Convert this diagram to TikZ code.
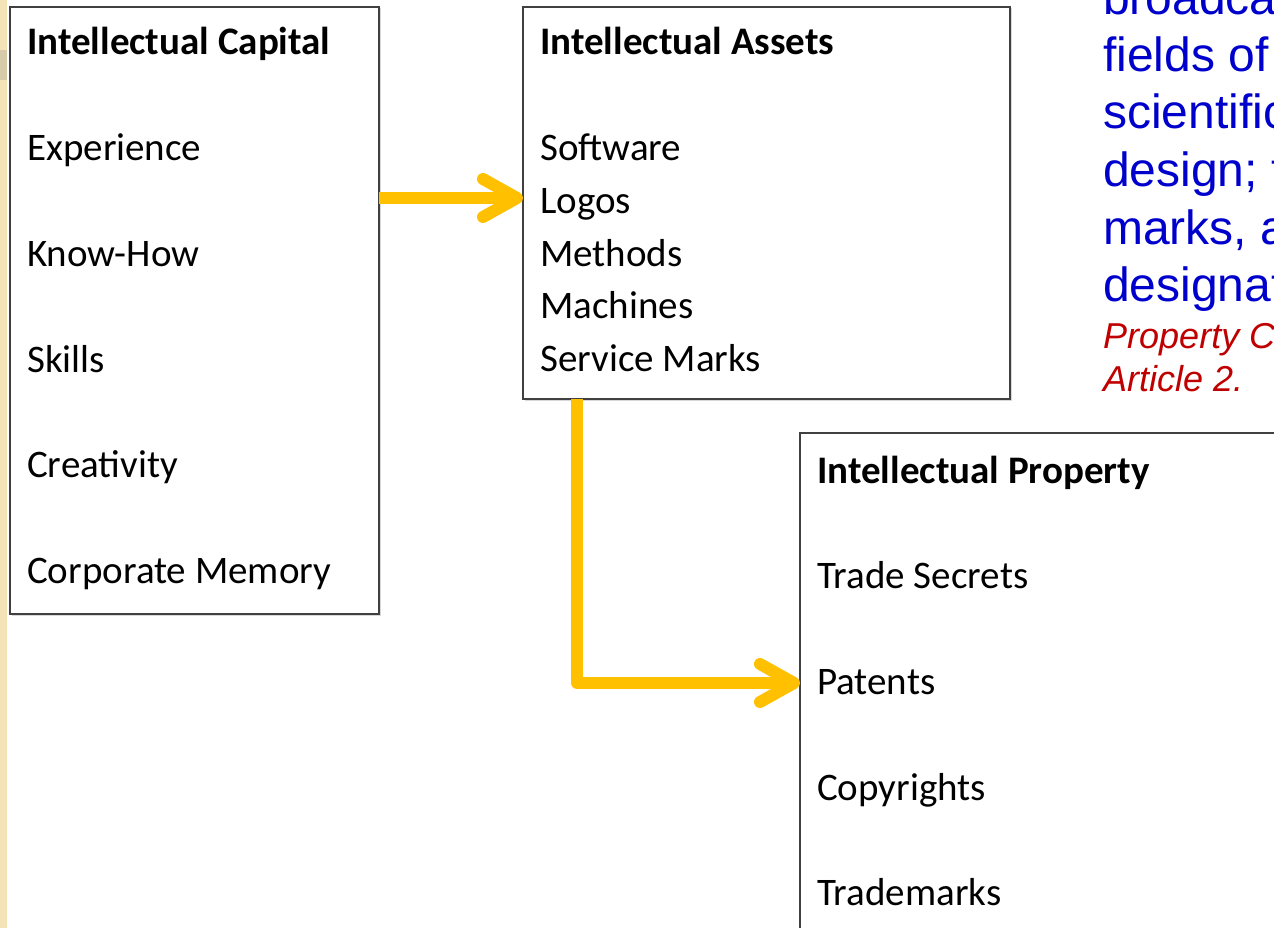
\documentclass[tikz,border=0pt]{standalone}
\usepackage{fontspec}
\setmainfont{Carlito}
\newfontfamily\arialf{Liberation Sans}
\usetikzlibrary{calc,shadows}
\definecolor{arrowc}{HTML}{FFC000}
\definecolor{quoteblue}{HTML}{0000CC}
\definecolor{quotered}{HTML}{C00000}
\definecolor{stripc}{HTML}{F3E3B6}
\definecolor{boxline}{HTML}{404040}
\tikzset{
  box/.style={draw=boxline, line width=1.4pt, fill=white, rectangle, inner sep=0pt, outer sep=0pt, anchor=north west,
    drop shadow={opacity=0.3, shadow xshift=1.5pt, shadow yshift=-1.5pt}},
  item/.style={font=\fontsize{39}{47}\selectfont, inner sep=0pt, anchor=base west, text=black},
  head/.style={item, font=\fontsize{39}{47}\selectfont\bfseries},
  shaft/.style={draw=arrowc, line width=12pt, line join=round, line cap=butt},
  barb/.style={draw=arrowc, line width=12pt, line join=round, line cap=round},
  quote/.style={font=\arialf\fontsize{48}{57}\selectfont, text=quoteblue, inner sep=0pt, anchor=base west},
  cite/.style={font=\arialf\itshape\fontsize{36}{43}\selectfont, text=quotered, inner sep=0pt, anchor=base west},
}
\begin{document}
\begin{tikzpicture}[x=1pt,y=-1pt]
\path[use as bounding box] (0,0) rectangle (1274,928);
\clip (0,0) rectangle (1274,928);
\fill[white] (0,0) rectangle (1274,928);
\fill[stripc] (0,0) rectangle (7,928);
\fill[stripc!75!gray] (0,50) rectangle (7,80);

% boxes
\node[box, minimum width=369pt, minimum height=607pt] (cap) at (10,7) {};
\node[box, minimum width=487pt, minimum height=392pt] (ast) at (523,7) {};
\node[box, minimum width=520pt, minimum height=520pt] (prop) at (800,433) {};

% box 1 text
\node[head] (capT) at (27,55) {Intellectual Capital};
\foreach \t [count=\i] in {Experience, Know-How, Skills, Creativity, Corporate Memory}
  \node[item] (cap\i) at (27,{55+105.7*\i}) {\t};

% box 2 text
\node[head] (astT) at (540,55) {Intellectual Assets};
\foreach \t [count=\i] in {Software, Logos, Methods, Machines, Service Marks}
  \node[item] (ast\i) at (540,{108+52.7*\i}) {\t};

% box 3 text
\node[head] (propT) at (817,483) {Intellectual Property};
\foreach \t [count=\i] in {Trade Secrets, Patents, Copyrights, Trademarks}
  \node[item] (prop\i) at (817,{483+105.7*\i}) {\t};

% arrows
\coordinate (a1) at (0,198);
\draw[shaft] (cap.east |- a1) -- ($(ast.west |- a1)+(-6,0)$);
\draw[barb] ($(ast.west |- a1)+(-40,-19)$) -- ($(ast.west |- a1)+(-6,0)$) -- ($(ast.west |- a1)+(-40,19)$);

\coordinate (a2) at (577,683);
\draw[shaft] (ast.south -| a2) -- (a2) -- ($(prop.west |- a2)+(-6,0)$);
\draw[barb] ($(prop.west |- a2)+(-40,-19)$) -- ($(prop.west |- a2)+(-6,0)$) -- ($(prop.west |- a2)+(-40,19)$);

% quotation (clipped at the right edge)
\node[quote] (q0) at (1103,15) {broadca};
\node[quote] (q1) at (1103,72) {fields of};
\node[quote] (q2) at (1103,129) {scientific};
\node[quote] (q3) at (1103,187) {design; t};
\node[quote] (q4) at (1103,244) {marks, a};
\node[quote] (q5) at (1103,301) {designat};
\node[cite] (r1) at (1103,348) {Property C};
\node[cite] (r2) at (1103,391) {Article 2.};
\end{tikzpicture}
\end{document}
